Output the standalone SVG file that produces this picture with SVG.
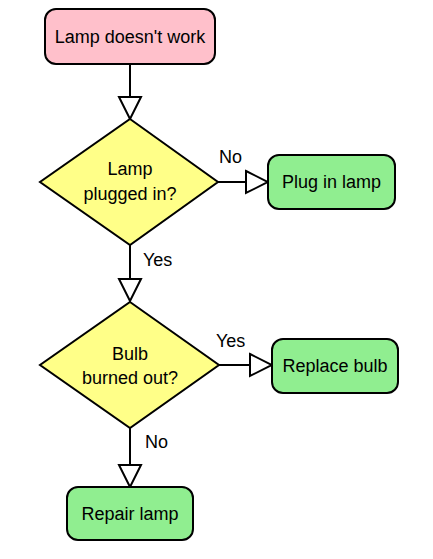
<svg xmlns="http://www.w3.org/2000/svg" width="433" height="559" viewBox="0 0 433 559">
  <defs>
    <marker id="arrow" markerUnits="userSpaceOnUse" markerWidth="26" markerHeight="26" viewBox="-2 -2 26 26" refX="22" refY="11" orient="auto">
      <path d="M0,0 L22,11 L0,22 Z" fill="#ffffff" stroke="#000000" stroke-width="2" stroke-linejoin="miter"/>
    </marker>
  </defs>
  <style>
    text { font-family: "Liberation Sans", Arial, sans-serif; font-size: 18px; fill: #000000; }
    .c { text-anchor: middle; }
    .node { stroke: #000000; stroke-width: 2; }
    .start { fill: #ffc0cb; }
    .dec { fill: #ffff88; }
    .act { fill: #90ee90; }
    .edge { fill: none; stroke: #000000; stroke-width: 2; marker-end: url(#arrow); }
  </style>
  <rect width="433" height="559" fill="#ffffff"/>

  <g id="connectors">
    <line class="edge" x1="130" y1="64" x2="130" y2="119"/>
    <line class="edge" x1="218" y1="182" x2="268" y2="182"/>
    <line class="edge" x1="130" y1="245" x2="130" y2="301"/>
    <line class="edge" x1="219" y1="365" x2="272" y2="365"/>
    <line class="edge" x1="130" y1="428" x2="130" y2="487"/>
    <text x="219" y="163">No</text>
    <text x="143" y="266">Yes</text>
    <text x="216" y="347">Yes</text>
    <text x="145" y="448">No</text>
  </g>

  <g id="start">
    <rect class="node start" x="45" y="9" width="170" height="55" rx="11"/>
    <text class="c" x="130" y="43">Lamp doesn't work</text>
  </g>

  <g id="plugged">
    <polygon class="node dec" points="130,119 218,182 130,245 40,182"/>
    <text class="c" x="130" y="175">Lamp</text>
    <text class="c" x="130" y="200">plugged in?</text>
  </g>

  <g id="pluginlamp">
    <rect class="node act" x="268" y="155" width="127" height="54" rx="11"/>
    <text class="c" x="331.5" y="188">Plug in lamp</text>
  </g>

  <g id="burned">
    <polygon class="node dec" points="130,302 219,365 130,428 40,365"/>
    <text class="c" x="130" y="360">Bulb</text>
    <text class="c" x="130" y="384">burned out?</text>
  </g>

  <g id="replacebulb">
    <rect class="node act" x="272" y="339" width="126" height="54" rx="11"/>
    <text class="c" x="335" y="372">Replace bulb</text>
  </g>

  <g id="repairlamp">
    <rect class="node act" x="67" y="487" width="126" height="53" rx="11"/>
    <text class="c" x="130" y="520">Repair lamp</text>
  </g>
</svg>
